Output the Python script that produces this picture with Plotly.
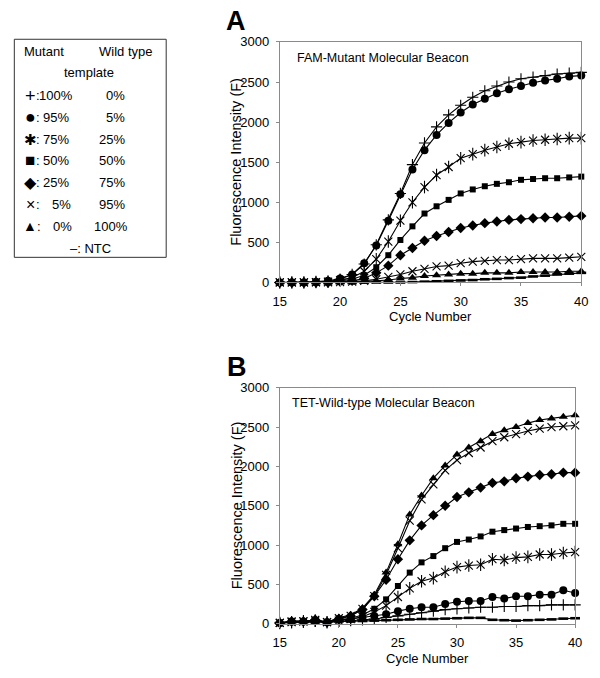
import plotly.graph_objects as go

# ---------------- data ----------------
cycles = list(range(15, 41))

# Panel A: FAM-Mutant Molecular Beacon
plus_A = [0, 0, 0, 5, 10, 40, 100, 230, 470, 780, 1110, 1470, 1740, 1940, 2090, 2210, 2310, 2390, 2450, 2500, 2540, 2560, 2580, 2600, 2610, 2620]
circle_A = [0, 0, 0, 10, 20, 50, 100, 240, 460, 770, 1100, 1410, 1650, 1840, 1990, 2120, 2220, 2290, 2360, 2410, 2450, 2490, 2520, 2540, 2570, 2580]
star_A = [0, 0, 0, 5, 10, 30, 60, 140, 290, 510, 770, 1000, 1190, 1340, 1440, 1550, 1600, 1650, 1690, 1730, 1750, 1770, 1780, 1790, 1800, 1800]
square_A = [0, 0, 0, 0, 5, 20, 40, 90, 190, 340, 530, 700, 860, 950, 1030, 1110, 1160, 1200, 1230, 1250, 1280, 1290, 1300, 1300, 1310, 1320]
diamond_A = [0, 0, 0, 0, 0, 10, 20, 50, 120, 210, 340, 430, 520, 580, 630, 680, 710, 740, 760, 780, 790, 800, 810, 810, 820, 830]
cross_A = [0, 0, 0, 0, 0, 5, 10, 20, 40, 70, 100, 140, 170, 200, 210, 240, 260, 270, 280, 280, 290, 300, 300, 300, 310, 320]
tri_A = [0, 0, 0, 0, 0, 0, 0, 10, 20, 30, 50, 60, 80, 90, 100, 110, 110, 120, 120, 120, 130, 130, 130, 130, 140, 140]
ntc_A = [0, 0, 0, 0, 0, 0, 0, 0, 0, 0, 0, 5, 10, 15, 20, 25, 30, 40, 45, 55, 60, 75, 85, 100, 110, 120]

# Panel B: TET-Wild-type Molecular Beacon
plus_B = [10, 20, 20, 30, 20, 30, 40, 50, 60, 80, 100, 120, 140, 160, 180, 190, 200, 210, 210, 220, 220, 230, 230, 240, 240, 240]
circle_B = [10, 30, 30, 40, 20, 50, 60, 80, 100, 120, 160, 190, 210, 210, 250, 280, 290, 290, 340, 320, 350, 350, 370, 370, 425, 390]
star_B = [10, 20, 30, 40, 20, 40, 60, 90, 150, 230, 340, 450, 540, 580, 660, 720, 740, 750, 820, 810, 840, 850, 880, 880, 900, 910]
square_B = [10, 20, 30, 40, 20, 50, 70, 110, 190, 310, 480, 650, 780, 860, 960, 1040, 1070, 1110, 1170, 1190, 1210, 1230, 1240, 1250, 1270, 1270]
diamond_B = [10, 30, 30, 50, 20, 60, 100, 180, 350, 560, 820, 1060, 1250, 1380, 1500, 1610, 1670, 1730, 1790, 1810, 1850, 1870, 1890, 1900, 1920, 1920]
cross_B = [10, 30, 30, 50, 20, 70, 100, 190, 350, 620, 960, 1310, 1580, 1770, 1950, 2080, 2170, 2240, 2320, 2370, 2410, 2450, 2480, 2500, 2510, 2520]
tri_B = [10, 30, 30, 50, 20, 80, 110, 200, 370, 650, 1010, 1390, 1630, 1850, 2010, 2150, 2240, 2320, 2410, 2460, 2500, 2550, 2590, 2610, 2630, 2650]
ntc_B = [10, 20, 20, 20, 20, 30, 30, 35, 40, 45, 50, 55, 60, 60, 65, 70, 75, 75, 50, 45, 40, 45, 50, 55, 65, 70]

x_ticks = [15, 20, 25, 30, 35, 40]
y_ticks = [0, 500, 1000, 1500, 2000, 2500, 3000]

panel_titles = ["A", "B"]
beacon_labels = ["FAM-Mutant Molecular Beacon", "TET-Wild-type Molecular Beacon"]
x_title = "Cycle Number"
y_title = "Fluorescence Intensity (F)"

legend_symbols = ["+", "●", "✱", "■", "◆", "×", "▲"]
mutant_pct = ["100%", "95%", "75%", "50%", "25%", "5%", "0%"]
wildtype_pct = ["0%", "5%", "25%", "50%", "75%", "95%", "100%"]
ntc_label = "–: NTC"

# ---------------- figure ----------------
W, H = 600, 678
FONT = "Liberation Sans, Arial, Helvetica, sans-serif"


def px(x):
    return x / W


def py(y):
    return 1 - y / H


fig = go.Figure()

marker_specs = [
    # (symbol, size, line width)
    ("cross-thin", 8, 1.1),
    ("circle", 8, 0),
    ("x-thin", 8, 1.1),
    ("square", 6, 0),
    ("diamond", 8, 0),
    ("x-thin", 8, 1.1),
    ("triangle-up", 8, 0),
    ("line-ew", 7, 2.6),
]

series_A = [plus_A, circle_A, star_A, square_A, diamond_A, cross_A, tri_A, ntc_A]
series_B = [plus_B, circle_B, star_B, square_B, diamond_B, cross_B, tri_B, ntc_B]

for axis_idx, series in ((1, series_A), (2, series_B)):
    xa = "x" if axis_idx == 1 else "x2"
    ya = "y" if axis_idx == 1 else "y2"
    for i, (vals, (sym, size, lw)) in enumerate(zip(series, marker_specs)):
        fig.add_trace(go.Scatter(
            x=cycles, y=vals, xaxis=xa, yaxis=ya, mode="lines+markers",
            line=dict(color="black", width=1.1),
            marker=dict(symbol=sym, size=size, color="black",
                        line=dict(color="black", width=lw)),
            cliponaxis=False, showlegend=False, hoverinfo="skip"))
        if i == 2:
            # vertical bar completing the six-armed star
            fig.add_trace(go.Scatter(
                x=cycles, y=vals, xaxis=xa, yaxis=ya, mode="markers",
                marker=dict(symbol="line-ns", size=9, color="black",
                            line=dict(color="black", width=1.1)),
                cliponaxis=False, showlegend=False, hoverinfo="skip"))

axis_common = dict(showline=True, linecolor="#8a8a8a", linewidth=1, mirror=True,
                   ticks="outside", ticklen=3, tickcolor="#8a8a8a", showgrid=False,
                   zeroline=False, tickfont=dict(family=FONT, size=13, color="black"))

fig.update_layout(
    width=W, height=H, margin=dict(l=0, r=0, t=0, b=0),
    paper_bgcolor="white", plot_bgcolor="white",
    xaxis=dict(domain=[px(279.3), px(588)], range=[15, 40], tickvals=x_ticks,
               anchor="y", ticklabelstandoff=4, **axis_common),
    yaxis=dict(domain=[py(281.7), py(35.7)], range=[0, 3000], tickvals=y_ticks,
               anchor="x", ticklabelstandoff=4, **axis_common),
    xaxis2=dict(domain=[px(279.3), px(581.7)], range=[15, 40], tickvals=x_ticks,
                anchor="y2", ticklabelstandoff=4, **axis_common),
    yaxis2=dict(domain=[py(630.7), py(389.3)], range=[0, 3000], tickvals=y_ticks,
                anchor="x2", ticklabelstandoff=4, **axis_common),
)

ann = []


def text(x, y, s, size=13, xanchor="left", bold=False, textangle=0):
    ann.append(dict(x=px(x), y=py(y), xref="paper", yref="paper", text=s,
                    showarrow=False, xanchor=xanchor, yanchor="middle",
                    textangle=textangle, borderpad=0,
                    font=dict(family=FONT, size=size, color="black",
                              weight="bold" if bold else "normal")))


# panel letters
text(234, 14, panel_titles[0], size=27, xanchor="center", bold=True)
text(235, 368, panel_titles[1], size=27, xanchor="center", bold=True)
# beacon labels
text(296, 52, beacon_labels[0], size=12.5)
text(291, 405, beacon_labels[1], size=12.5)
# axis titles
text(433.6, 317, x_title, size=13, xanchor="center")
text(430.5, 666, x_title, size=13, xanchor="center")
text(235, 158.7, y_title, size=14.5, xanchor="center", textangle=-90)
text(235, 510, y_title, size=14.5, xanchor="center", textangle=-90)

# legend box content
text(16, 45, "Mutant")
text(93, 45, "Wild type")
text(84, 67, "template", xanchor="center")
row_y = [91, 113, 135, 157, 179, 202, 224]
sym_sizes = [18, 18, 15, 17, 16, 16, 14]
sym_x = [24.5, 24, 24, 24, 24, 24, 23.5]
colon_x = [32, 31.5, 31.5, 31.5, 31.5, 31.5, 33]
mut_right = [69, 64, 64, 64, 65, 67, 68]
wt_right = [122, 122, 122, 122, 122, 122, 125]
for sym, ss, sx, cx, mp, wp, yy, mr, wr in zip(legend_symbols, sym_sizes, sym_x, colon_x,
                                               mutant_pct, wildtype_pct, row_y, mut_right, wt_right):
    text(sx, yy, sym, size=ss, xanchor="center")
    text(cx, yy, ":", xanchor="center")
    text(mr, yy, mp, xanchor="right")
    text(wr, yy, wp, xanchor="right")
text(85, 247, ntc_label, xanchor="center")

fig.update_layout(annotations=ann)
fig.add_shape(type="rect", xref="paper", yref="paper",
              x0=px(7.5), x1=px(163), y0=py(256), y1=py(33),
              line=dict(color="#333333", width=1), fillcolor="rgba(0,0,0,0)")

# remove the default 8px page margin so the figure sits at the window's corner
fig.write_html("out.html", config={"displayModeBar": False},
               post_script="document.body.style.margin='0';document.body.style.overflow='hidden';")
